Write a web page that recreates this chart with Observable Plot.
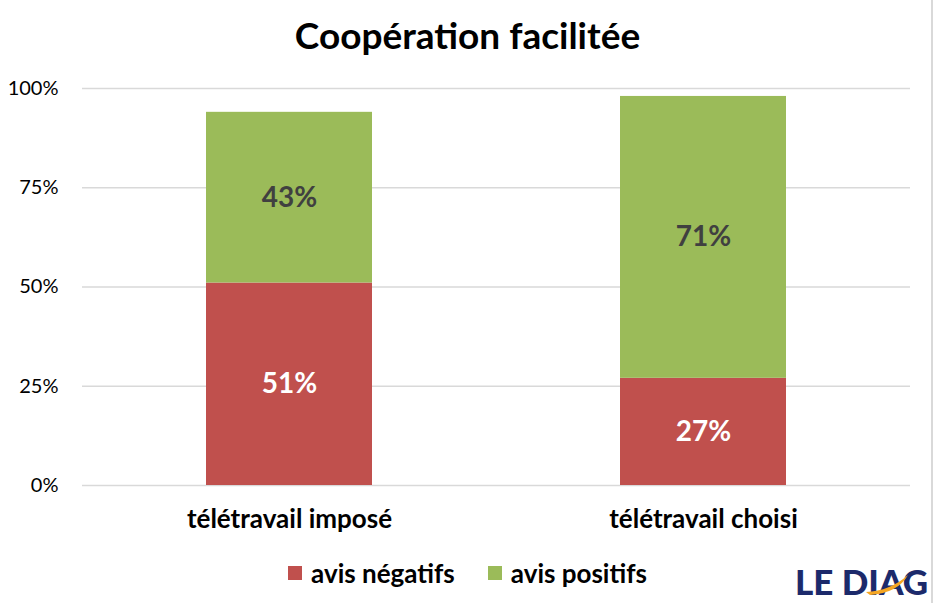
<!DOCTYPE html>
<html><head><meta charset="utf-8">
<script src="https://cdn.jsdelivr.net/npm/d3@7"></script>
<script src="https://cdn.jsdelivr.net/npm/@observablehq/plot@0.6"></script>
<style>
body{margin:0;background:#fff;font-family:Lato,"Noto Sans",sans-serif;}
#wrap{position:relative;width:935px;height:603px;overflow:hidden;}
#title{position:absolute;top:12px;left:0;width:935px;text-align:center;font-weight:bold;font-size:37px;color:#000;}
#chart{position:absolute;top:75px;left:0;}
#legend{position:absolute;top:557px;left:0;width:935px;display:flex;justify-content:center;font-weight:bold;font-size:26px;color:#000;}
.item{display:flex;align-items:center;margin:0 33px 0 0;}
.item:last-child{margin-right:0}
.sw{width:14px;height:14px;margin-right:9px;}
#logo{position:absolute;left:785px;top:553px;}
#edge{position:absolute;left:931px;top:0;width:2px;height:603px;background:#d9d9d9;}
</style></head>
<body><div id="wrap">
<div id="title">Coopération facilitée</div>
<div id="chart"></div>
<div id="legend"></div>
<svg id="logo" width="146" height="50">
  <text x="10" y="42" font-family="Lato, sans-serif" font-weight="900" font-size="35" fill="#1c2a6b">LE DIAG</text>
  <path d="M81,39 Q105,38 123,22 Q113,40 85,42 Z" fill="#f5a623"/>
</svg>
<div id="edge"></div>
</div>
<script>
const categories = ["télétravail imposé", "télétravail choisi"];
const series = ["avis négatifs", "avis positifs"];
const negatifs = [51, 27];
const positifs = [43, 71];
const yTicks = [0, 25, 50, 75, 100];
const colors = ["#c0504d", "#9bbb59"];
const labelColors = ["#ffffff", "#404040"];

const rows = [];
categories.forEach((c, i) => {
  let base = 0;
  [negatifs[i], positifs[i]].forEach((v, j) => {
    rows.push({cat: c, serie: series[j], value: v, mid: base + v / 2, si: j});
    base += v;
  });
});

const plot = Plot.plot({
  width: 935,
  height: 470,
  marginTop: 13,
  marginBottom: 60,
  marginLeft: 82,
  marginRight: 25,
  style: {fontFamily: "Lato, 'Noto Sans', sans-serif", background: "transparent"},
  x: {domain: categories, paddingInner: 0.6, paddingOuter: 0.3, label: null},
  y: {domain: [0, 100], label: null},
  color: {domain: series, range: colors},
  marks: [
    Plot.gridY(yTicks, {stroke: "#d9d9d9", strokeOpacity: 1, strokeWidth: 1.5}),
    Plot.axisY(yTicks, {tickSize: 0, tickPadding: 24, tickFormat: d => d + "%", fontSize: 20, fill: "#000", label: null}),
    Plot.axisX({tickSize: 0, tickPadding: 24, fontSize: 26, fontWeight: "bold", fill: "#000", label: null}),
    Plot.barY(rows, Plot.stackY({x: "cat", y: "value", fill: "serie", order: series})),
    Plot.text(rows, {x: "cat", y: "mid", text: d => d.value + "%", fill: d => labelColors[d.si], fontSize: 28, fontWeight: "bold"})
  ]
});
document.getElementById("chart").appendChild(plot);

const leg = document.getElementById("legend");
series.forEach((s, i) => {
  const it = document.createElement("div"); it.className = "item";
  const sw = document.createElement("div"); sw.className = "sw"; sw.style.background = colors[i];
  const t = document.createElement("span"); t.textContent = s;
  it.appendChild(sw); it.appendChild(t); leg.appendChild(it);
});
</script>
</body></html>
